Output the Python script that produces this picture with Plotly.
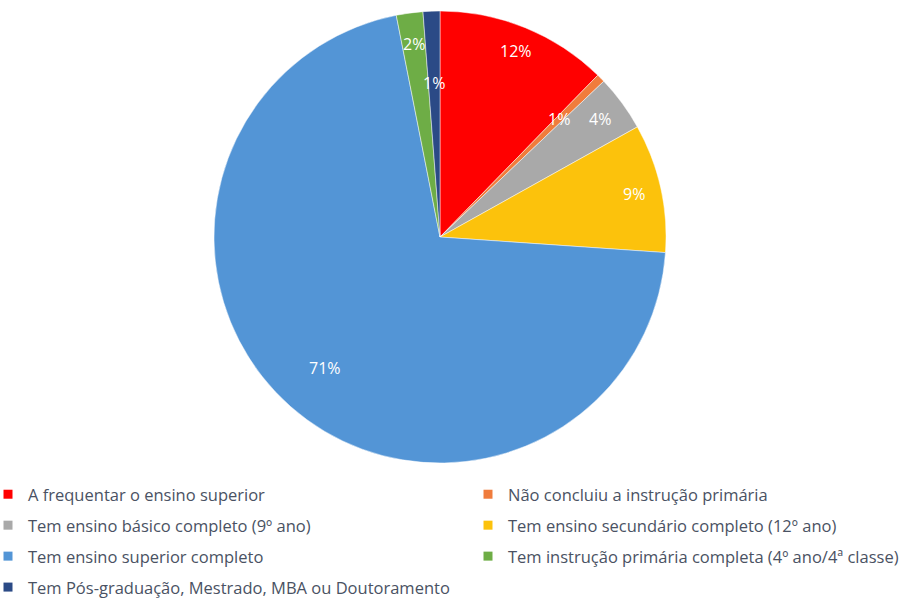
import math
import plotly.graph_objects as go

# Escolaridade: categorias, percentagens e cores
categorias = [
    "A frequentar o ensino superior",
    "Não concluiu a instrução primária",
    "Tem ensino básico completo (9º ano)",
    "Tem ensino secundário completo (12º ano)",
    "Tem ensino superior completo",
    "Tem instrução primária completa (4º ano/4ª classe)",
    "Tem Pós-graduação, Mestrado, MBA ou Doutoramento",
]
percentagens = [12.3, 0.6, 4.0, 9.2, 70.8, 1.9, 1.2]
cores = ["#FF0000", "#F07C3C", "#A9A9A9", "#FCC20C", "#5395D6", "#6EAD46", "#2B4A86"]

# distância dos rótulos ao centro (fração do raio)
raio_rotulo = [0.89, 0.74, 0.88, 0.88, 0.77, 0.86, 0.68]

W, H = 909, 598
cx, cy, R = 440, 237, 226  # centro e raio do gráfico em píxeis
FONTE = "'Open Sans', Lato, sans-serif"

fig = go.Figure()
fig.add_trace(go.Pie(
    labels=categorias,
    values=percentagens,
    sort=False,
    direction="clockwise",
    rotation=0,
    marker=dict(colors=cores, line=dict(color="rgba(255,255,255,0.6)", width=0.8)),
    textinfo="none",
    hoverinfo="label+percent",
    showlegend=False,
    domain=dict(x=[(cx - R) / W, (cx + R) / W], y=[(H - cy - R) / H, (H - cy + R) / H]),
))

# rótulos de percentagem colocados no ângulo médio de cada fatia
total = sum(percentagens)
acum = 0.0
for v, rf in zip(percentagens, raio_rotulo):
    meio = (acum + v / 2) / total * 2 * math.pi
    acum += v
    px = cx + math.sin(meio) * R * rf
    py = cy - math.cos(meio) * R * rf
    fig.add_annotation(
        x=px / W, y=1 - py / H, xref="paper", yref="paper",
        xanchor="center", yanchor="middle",
        text=f"{round(v / total * 100):.0f}%", showarrow=False,
        font=dict(family=FONTE, size=16, color="white"),
    )

# legenda em duas colunas (entradas auxiliares)
for i, (nome, cor) in enumerate(zip(categorias, cores)):
    fig.add_trace(go.Scatter(
        x=[None], y=[None], mode="markers", name=nome,
        marker=dict(symbol="square", size=9, color=cor),
        legend="legend" if i % 2 == 0 else "legend2",
        legendgroup=nome, showlegend=True,
    ))

leg_font = dict(family=FONTE, size=16.5, color="#4a5263")
leg_common = dict(
    orientation="v", yanchor="top", xanchor="left", font=leg_font,
    bgcolor="rgba(0,0,0,0)", tracegroupgap=6.5, itemwidth=30,
)
fig.update_layout(
    width=W, height=H,
    margin=dict(l=0, r=0, t=0, b=0, autoexpand=False),
    paper_bgcolor="white", plot_bgcolor="white",
    xaxis=dict(visible=False), yaxis=dict(visible=False),
    legend=dict(x=-12 / W, y=1 - 477 / H, **leg_common),
    legend2=dict(x=468 / W, y=1 - 477 / H, **leg_common),
)

fig.write_html("out.html")
